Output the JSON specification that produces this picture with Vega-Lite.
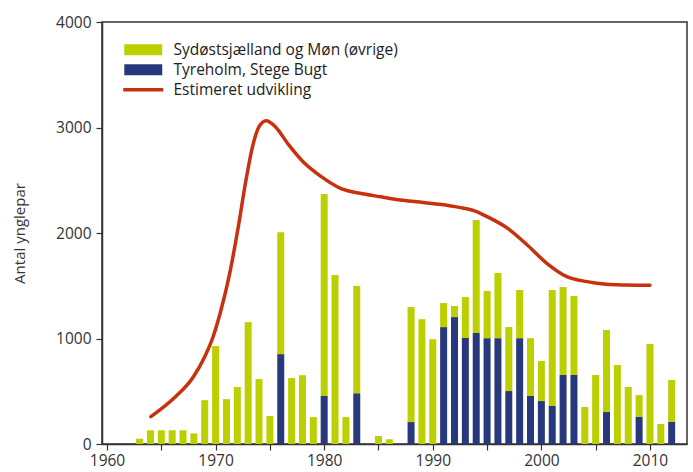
{
  "$schema": "https://vega.github.io/schema/vega-lite/v6.json",
  "width": 585,
  "height": 422,
  "autosize": {"type": "none"},
  "padding": {"left": 102, "top": 22, "right": 6, "bottom": 28},
  "background": "white",
  "config": {
    "font": "Open Sans",
    "view": {"stroke": "#333333", "strokeWidth": 1.5},
    "axis": {"labelFont": "Open Sans", "titleFont": "Open Sans", "labelColor": "#333333", "titleColor": "#333333", "domainColor": "#333333", "tickColor": "#333333", "domainWidth": 1.5, "tickWidth": 1.2, "tickSize": 6, "grid": false, "labelFontSize": 15, "titleFontSize": 15, "titleFontWeight": "normal"}
  },
  "datasets": {
    "bars": [
      {"year": 1963, "series": "Sydøstsjælland og Møn (øvrige)", "value": 50},
      {"year": 1964, "series": "Sydøstsjælland og Møn (øvrige)", "value": 130},
      {"year": 1965, "series": "Sydøstsjælland og Møn (øvrige)", "value": 130},
      {"year": 1966, "series": "Sydøstsjælland og Møn (øvrige)", "value": 130},
      {"year": 1967, "series": "Sydøstsjælland og Møn (øvrige)", "value": 130},
      {"year": 1968, "series": "Sydøstsjælland og Møn (øvrige)", "value": 100},
      {"year": 1969, "series": "Sydøstsjælland og Møn (øvrige)", "value": 415},
      {"year": 1970, "series": "Sydøstsjælland og Møn (øvrige)", "value": 928},
      {"year": 1971, "series": "Sydøstsjælland og Møn (øvrige)", "value": 425},
      {"year": 1972, "series": "Sydøstsjælland og Møn (øvrige)", "value": 540},
      {"year": 1973, "series": "Sydøstsjælland og Møn (øvrige)", "value": 1155},
      {"year": 1974, "series": "Sydøstsjælland og Møn (øvrige)", "value": 615},
      {"year": 1975, "series": "Sydøstsjælland og Møn (øvrige)", "value": 265},
      {"year": 1976, "series": "Tyreholm, Stege Bugt", "value": 852},
      {"year": 1976, "series": "Sydøstsjælland og Møn (øvrige)", "value": 1155},
      {"year": 1977, "series": "Sydøstsjælland og Møn (øvrige)", "value": 625},
      {"year": 1978, "series": "Sydøstsjælland og Møn (øvrige)", "value": 652},
      {"year": 1979, "series": "Sydøstsjælland og Møn (øvrige)", "value": 255},
      {"year": 1980, "series": "Tyreholm, Stege Bugt", "value": 455},
      {"year": 1980, "series": "Sydøstsjælland og Møn (øvrige)", "value": 1915},
      {"year": 1981, "series": "Sydøstsjælland og Møn (øvrige)", "value": 1602},
      {"year": 1982, "series": "Sydøstsjælland og Møn (øvrige)", "value": 255},
      {"year": 1983, "series": "Tyreholm, Stege Bugt", "value": 482},
      {"year": 1983, "series": "Sydøstsjælland og Møn (øvrige)", "value": 1016},
      {"year": 1985, "series": "Sydøstsjælland og Møn (øvrige)", "value": 75},
      {"year": 1986, "series": "Sydøstsjælland og Møn (øvrige)", "value": 45},
      {"year": 1988, "series": "Tyreholm, Stege Bugt", "value": 208},
      {"year": 1988, "series": "Sydøstsjælland og Møn (øvrige)", "value": 1090},
      {"year": 1989, "series": "Sydøstsjælland og Møn (øvrige)", "value": 1183},
      {"year": 1990, "series": "Sydøstsjælland og Møn (øvrige)", "value": 993},
      {"year": 1991, "series": "Tyreholm, Stege Bugt", "value": 1108},
      {"year": 1991, "series": "Sydøstsjælland og Møn (øvrige)", "value": 228},
      {"year": 1992, "series": "Tyreholm, Stege Bugt", "value": 1203},
      {"year": 1992, "series": "Sydøstsjælland og Møn (øvrige)", "value": 105},
      {"year": 1993, "series": "Tyreholm, Stege Bugt", "value": 1005},
      {"year": 1993, "series": "Sydøstsjælland og Møn (øvrige)", "value": 388},
      {"year": 1994, "series": "Tyreholm, Stege Bugt", "value": 1052},
      {"year": 1994, "series": "Sydøstsjælland og Møn (øvrige)", "value": 1071},
      {"year": 1995, "series": "Tyreholm, Stege Bugt", "value": 1003},
      {"year": 1995, "series": "Sydøstsjælland og Møn (øvrige)", "value": 447},
      {"year": 1996, "series": "Tyreholm, Stege Bugt", "value": 1003},
      {"year": 1996, "series": "Sydøstsjælland og Møn (øvrige)", "value": 618},
      {"year": 1997, "series": "Tyreholm, Stege Bugt", "value": 502},
      {"year": 1997, "series": "Sydøstsjælland og Møn (øvrige)", "value": 607},
      {"year": 1998, "series": "Tyreholm, Stege Bugt", "value": 1003},
      {"year": 1998, "series": "Sydøstsjælland og Møn (øvrige)", "value": 457},
      {"year": 1999, "series": "Tyreholm, Stege Bugt", "value": 455},
      {"year": 1999, "series": "Sydøstsjælland og Møn (øvrige)", "value": 548},
      {"year": 2000, "series": "Tyreholm, Stege Bugt", "value": 407},
      {"year": 2000, "series": "Sydøstsjælland og Møn (øvrige)", "value": 380},
      {"year": 2001, "series": "Tyreholm, Stege Bugt", "value": 360},
      {"year": 2001, "series": "Sydøstsjælland og Møn (øvrige)", "value": 1100},
      {"year": 2002, "series": "Tyreholm, Stege Bugt", "value": 654},
      {"year": 2002, "series": "Sydøstsjælland og Møn (øvrige)", "value": 834},
      {"year": 2003, "series": "Tyreholm, Stege Bugt", "value": 654},
      {"year": 2003, "series": "Sydøstsjælland og Møn (øvrige)", "value": 749},
      {"year": 2004, "series": "Sydøstsjælland og Møn (øvrige)", "value": 351},
      {"year": 2005, "series": "Sydøstsjælland og Møn (øvrige)", "value": 654},
      {"year": 2006, "series": "Tyreholm, Stege Bugt", "value": 303},
      {"year": 2006, "series": "Sydøstsjælland og Møn (øvrige)", "value": 777},
      {"year": 2007, "series": "Sydøstsjælland og Møn (øvrige)", "value": 749},
      {"year": 2008, "series": "Sydøstsjælland og Møn (øvrige)", "value": 540},
      {"year": 2009, "series": "Tyreholm, Stege Bugt", "value": 256},
      {"year": 2009, "series": "Sydøstsjælland og Møn (øvrige)", "value": 208},
      {"year": 2010, "series": "Sydøstsjælland og Møn (øvrige)", "value": 948},
      {"year": 2011, "series": "Sydøstsjælland og Møn (øvrige)", "value": 190},
      {"year": 2012, "series": "Tyreholm, Stege Bugt", "value": 209},
      {"year": 2012, "series": "Sydøstsjælland og Møn (øvrige)", "value": 398}
    ],
    "trend": [
      {"year": 1964.04, "series": "Estimeret udvikling", "value": 259},
      {"year": 1966.15, "series": "Estimeret udvikling", "value": 433},
      {"year": 1967.96, "series": "Estimeret udvikling", "value": 638},
      {"year": 1969.0, "series": "Estimeret udvikling", "value": 828},
      {"year": 1969.77, "series": "Estimeret udvikling", "value": 1017},
      {"year": 1970.5, "series": "Estimeret udvikling", "value": 1270},
      {"year": 1971.3, "series": "Estimeret udvikling", "value": 1618},
      {"year": 1972.04, "series": "Estimeret udvikling", "value": 2028},
      {"year": 1972.8, "series": "Estimeret udvikling", "value": 2502},
      {"year": 1973.4, "series": "Estimeret udvikling", "value": 2818},
      {"year": 1974.0, "series": "Estimeret udvikling", "value": 3008},
      {"year": 1974.66, "series": "Estimeret udvikling", "value": 3065},
      {"year": 1975.5, "series": "Estimeret udvikling", "value": 3008},
      {"year": 1976.7, "series": "Estimeret udvikling", "value": 2840},
      {"year": 1978.2, "series": "Estimeret udvikling", "value": 2660},
      {"year": 1979.73, "series": "Estimeret udvikling", "value": 2534},
      {"year": 1981.5, "series": "Estimeret udvikling", "value": 2423},
      {"year": 1983.3, "series": "Estimeret udvikling", "value": 2376},
      {"year": 1985.2, "series": "Estimeret udvikling", "value": 2344},
      {"year": 1987.0, "series": "Estimeret udvikling", "value": 2313},
      {"year": 1988.8, "series": "Estimeret udvikling", "value": 2294},
      {"year": 1990.6, "series": "Estimeret udvikling", "value": 2272},
      {"year": 1992.4, "series": "Estimeret udvikling", "value": 2243},
      {"year": 1993.9, "series": "Estimeret udvikling", "value": 2208},
      {"year": 1995.1, "series": "Estimeret udvikling", "value": 2150},
      {"year": 1996.9, "series": "Estimeret udvikling", "value": 2044},
      {"year": 1998.7, "series": "Estimeret udvikling", "value": 1886},
      {"year": 2000.5, "series": "Estimeret udvikling", "value": 1713},
      {"year": 2002.35, "series": "Estimeret udvikling", "value": 1586},
      {"year": 2004.2, "series": "Estimeret udvikling", "value": 1539},
      {"year": 2006.0, "series": "Estimeret udvikling", "value": 1514},
      {"year": 2007.8, "series": "Estimeret udvikling", "value": 1507},
      {"year": 2010.0, "series": "Estimeret udvikling", "value": 1504}
    ]
  },
  "encoding": {
    "x": {
      "field": "year", "type": "quantitative",
      "scale": {"domain": [1960, 2012.95], "nice": false, "zero": false},
      "axis": {"title": null, "values": [1960, 1965, 1970, 1975, 1980, 1985, 1990, 1995, 2000, 2005, 2010], "format": "d", "labelExpr": "datum.value % 10 == 0 ? datum.label : ''", "labelPadding": 3, "labelFontSize": 15.5}
    },
    "y": {
      "field": "value", "type": "quantitative",
      "scale": {"domain": [0, 4000], "nice": false},
      "axis": {"title": "Antal ynglepar", "values": [0, 1000, 2000, 3000, 4000], "format": "d", "labelPadding": 5, "titlePadding": 28, "labelFontSize": 15.5}
    },
    "color": {
      "field": "series", "type": "nominal",
      "scale": {
        "domain": ["Sydøstsjælland og Møn (øvrige)", "Tyreholm, Stege Bugt", "Estimeret udvikling"],
        "range": ["#bccf00", "#28387c", "#c8310f"]
      },
      "legend": {
        "title": null,
        "orient": "none",
        "legendX": 33.5,
        "legendY": 20,
        "padding": 0,
        "labelFont": "Open Sans",
        "labelFontSize": 15.5,
        "labelColor": "#222222",
        "labelLimit": 0,
        "labelOffset": 22.5,
        "rowPadding": 3,
        "symbolSize": 121,
        "symbolStrokeWidth": 0,
        "symbolOpacity": 1,
        "encode": {
          "symbols": {
            "update": {
              "shape": {"signal": "datum.value === 'Estimeret udvikling' ? 'M-3.64,-0.32H3.64V0.32H-3.64Z' : 'M-3.45,-1H3.45V1H-3.45Z'"},
              "fill": {"scale": "color", "field": "value"},
              "stroke": {"value": "transparent"},
              "opacity": {"value": 1}
            }
          }
        }
      }
    }
  },
  "layer": [
    {
      "data": {"name": "bars"},
      "mark": {"type": "bar", "size": 7},
      "encoding": {
        "order": {"field": "series", "sort": "descending"}
      }
    },
    {
      "data": {"name": "trend"},
      "mark": {"type": "line", "strokeWidth": 3.5, "interpolate": "monotone", "strokeCap": "round"},
      "encoding": {}
    }
  ]
}
